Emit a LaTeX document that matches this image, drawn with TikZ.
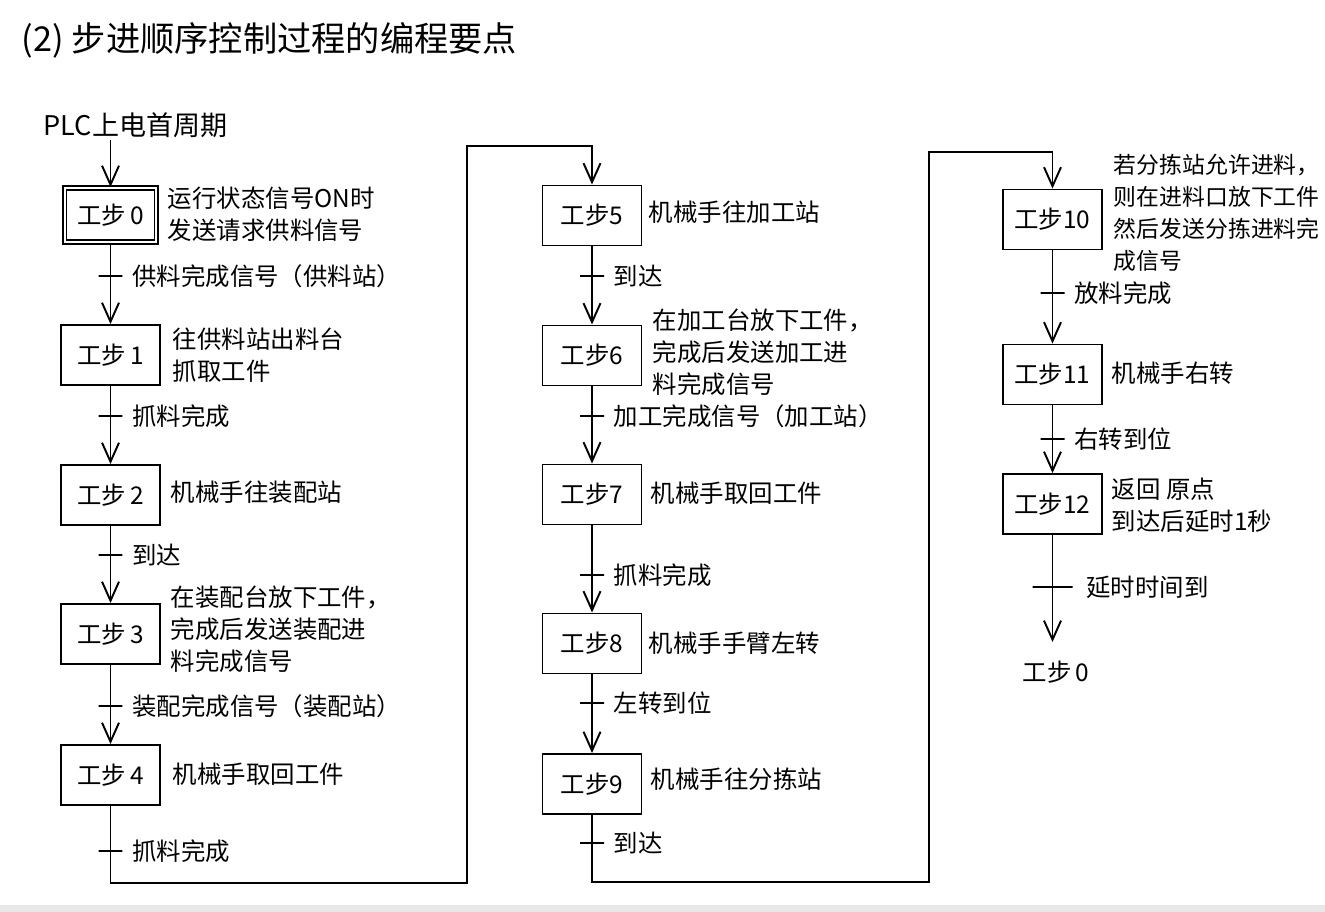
\documentclass[tikz,border=0pt]{standalone}
\usepackage{fontspec}
\setmainfont{Noto Sans CJK SC}
\usetikzlibrary{arrows.meta}

\begin{document}
\begin{tikzpicture}[x=0.02cm,y=-0.02cm,line width=1.1pt,font=\fontsize{13.9pt}{18.2pt}\selectfont]
                \tikzstyle{stepbox}=[draw,rectangle,minimum width=1.98cm,minimum height=1.2cm,inner sep=0pt]
                \tikzstyle{trans}=[draw,rectangle,minimum width=0.48cm,minimum height=0pt,inner sep=0pt]
                \tikzstyle{lbl}=[inner sep=0pt,label distance=0.16cm]
                \tikzstyle{note}=[anchor=west,inner sep=0pt,align=left]
                \tikzstyle{flow}=[-{Straight Barb[length=0.38cm,width=0.34cm]}]
                \useasboundingbox (0,0) rectangle (1325,912);
                \fill[black!9] (0,905) rectangle (1325,912);

                \node[anchor=west,inner sep=0pt,font=\fontsize{19.5pt}{22pt}\selectfont] (title) at (21,40) {(2) 步进顺序控制过程的编程要点};
                \node[anchor=west,inner sep=1pt,font=\fontsize{15.4pt}{18pt}\selectfont] (plc) at (41,125) {PLC上电首周期};

                % steps
                \node[stepbox,double,double distance=0.04cm,minimum width=1.84cm,minimum height=1.08cm] (S-0) at (110.5,215) {工步\,0};
                \foreach \num/\y in {1/355, 2/495, 3/634, 4/775}
                    \node[stepbox] (S-\num) at (110.5,\y) {工步\,\num};
                \foreach \num/\y in {5/215.5, 6/355.5, 7/494.5, 8/643.5, 9/784}
                    \node[stepbox] (S-\num) at (592,\y) {工步\num};
                \foreach \num/\y in {10/219.5, 11/374.5, 12/504}
                    \node[stepbox] (S-\num) at (1052.5,\y) {工步\num};
                \coordinate (E-12) at (1052.5,642);
                \node[inner sep=0pt] (S-back) at (1056,672) {工步\,0};

                % actions
                \foreach \num/\x/\y/\txt in {0/167/214/{运行状态信号ON时\\发送请求供料信号}, 1/172/355/{往供料站出料台\\抓取工件},
                        2/170/492/{机械手往装配站}, 3/170/629/{在装配台放下工件，\\完成后发送装配进\\料完成信号}, 4/172/774/{机械手取回工件},
                        5/648/212/{机械手往加工站}, 6/652/352/{在加工台放下工件，\\完成后发送加工进\\料完成信号}, 7/650/493/{机械手取回工件},
                        8/648/643/{机械手手臂左转}, 9/650/779/{机械手往分拣站}, 11/1111/373/{机械手右转}, 12/1111/505/{返回 原点\\到达后延时1秒}}
                    \node[note] (D-\num) at (\x,\y) {\txt};
                \node[note,font=\fontsize{13pt}{18.2pt}\selectfont] (D-10) at (1113,213) {若分拣站允许进料，\\则在进料口放下工件\\然后发送分拣进料完\\成信号};

                % transitions
                \foreach \num/\x/\y/\txt in {0/110.5/276/供料完成信号（供料站）, 1/110.5/416/抓料完成, 2/110.5/555/到达,
                        3/110.5/706/装配完成信号（装配站）, 4/110.5/851/抓料完成, 5/592/276/到达, 6/592/416/加工完成信号（加工站）,
                        7/592/575/抓料完成, 8/592/703/左转到位, 9/592/843/到达, 10/1052.5/293/放料完成, 11/1052.5/439/右转到位}
                    \node[trans,label={[lbl]right:\txt}] (T-\num) at (\x,\y) {};
                \node[trans,minimum width=0.8cm,label={[lbl,label distance=0.24cm]right:延时时间到}] (T-12) at (1052.5,587) {};

                \coordinate (B-1) at (467,883);
                \coordinate (B-2) at (467,146);
                \coordinate (B-3) at (929,882);
                \coordinate (B-4) at (929,152);

                \draw[flow] (plc.south -| S-0) -- (S-0);
                \foreach \from/\to in {0/1, 1/2, 2/3, 3/4, 5/6, 6/7, 7/8, 8/9, 10/11, 11/12, 12/E-12}
                    \draw[flow] (S-\from) -- (\ifnum\from=12 E-12\else S-\to\fi);
                \draw[flow] (S-4) |- (B-1) -- (B-2) -| (S-5);
                \draw[flow] (S-9) |- (B-3) -- (B-4) -| (S-10);
            \end{tikzpicture}
\end{document}
